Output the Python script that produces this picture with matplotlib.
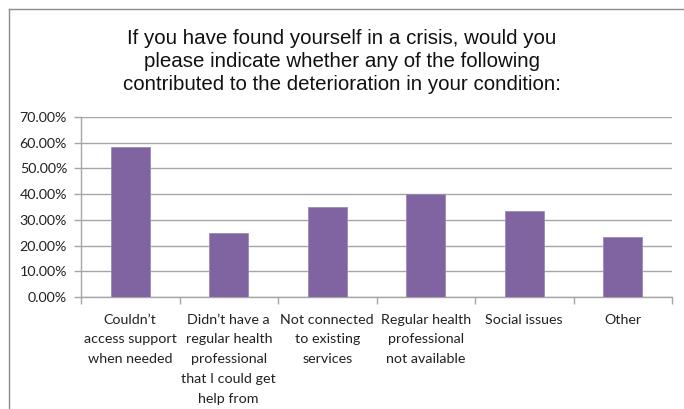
import matplotlib
matplotlib.use("Agg")
import matplotlib.pyplot as plt
from matplotlib.lines import Line2D

categories = [
    "Couldn\u2019t\naccess support\nwhen needed",
    "Didn\u2019t have a\nregular health\nprofessional\nthat I could get\nhelp from",
    "Not connected\nto existing\nservices",
    "Regular health\nprofessional\nnot available",
    "Social issues",
    "Other",
]
values = [58.33, 25.0, 35.0, 40.0, 33.33, 23.33]
y_ticks = [0, 10, 20, 30, 40, 50, 60, 70]

title = ("If you have found yourself in a crisis, would you\n"
         "please indicate whether any of the following\n"
         "contributed to the deterioration in your condition:")

bar_color = "#8064A2"
grid_color = "#a6a6a6"
label_font = ["Lato", "DejaVu Sans"]

fig = plt.figure(figsize=(6.84, 4.09), dpi=100)

# chart frame: left and top edges only
fx = 8.5 / 684
fy = 1 - 8.5 / 409
fig.add_artist(Line2D([fx, fx], [0, fy], transform=fig.transFigure,
                      color="#8c8c8c", linewidth=1.0))
fig.add_artist(Line2D([fx, 1], [fy, fy], transform=fig.transFigure,
                      color="#8c8c8c", linewidth=1.0))

ax = fig.add_axes([81 / 684, (409 - 297) / 409, (672 - 81) / 684, 180 / 409])
x = list(range(len(categories)))
ax.bar(x, values, width=0.4, color=bar_color, edgecolor="#9d88b8",
       linewidth=0.6, zorder=3)

ax.set_xlim(-0.5, len(categories) - 0.5)
ax.set_ylim(0, 70)
ax.set_yticks(y_ticks)
ax.set_yticklabels([f"{v:.2f}%" for v in y_ticks])
ax.yaxis.grid(True, color=grid_color, linewidth=1.0, zorder=0)
ax.set_axisbelow(True)

for side in ("top", "right"):
    ax.spines[side].set_visible(False)
for side in ("left", "bottom"):
    ax.spines[side].set_color(grid_color)
    ax.spines[side].set_linewidth(1.0)

ax.set_xticks(x)
ax.set_xticklabels(categories, fontsize=10.3, family=label_font,
                   linespacing=1.78, va="top")
ax.tick_params(axis="x", length=0, pad=12, colors="#222222")
ax.set_xticks([i + 0.5 for i in range(-1, len(categories))], minor=True)
ax.tick_params(axis="x", which="minor", length=5, color=grid_color, width=1.0)
ax.tick_params(axis="y", length=5, color=grid_color, width=1.0, pad=5,
               labelsize=10.3, colors="#222222")
for lbl in ax.get_yticklabels():
    lbl.set_family(label_font)

fig.text(0.5, 0.93, title, ha="center", va="top", fontsize=14.8,
         family=["Liberation Sans", "DejaVu Sans"], linespacing=1.27,
         color="#111111")

fig.savefig("out.png", dpi=100)
